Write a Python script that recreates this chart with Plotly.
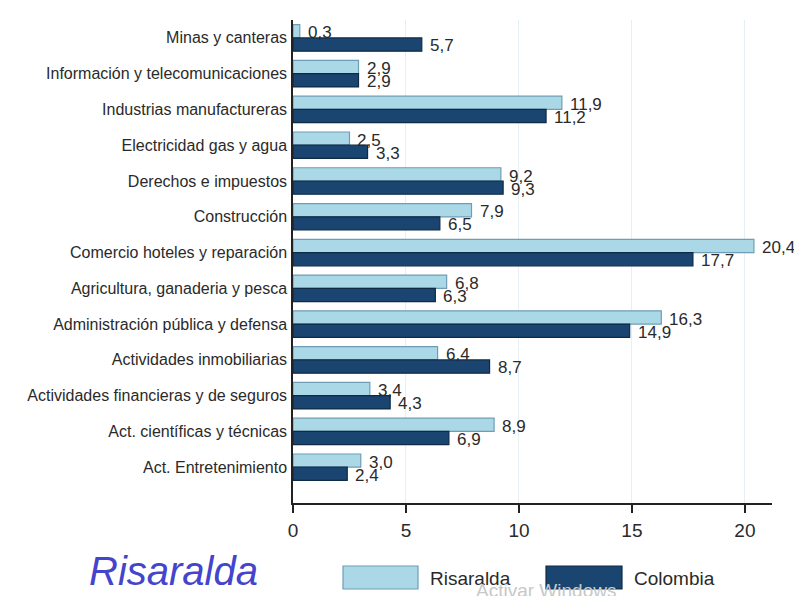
import plotly.graph_objects as go

categories = [
    "Minas y canteras",
    "Información y telecomunicaciones",
    "Industrias manufactureras",
    "Electricidad gas y agua",
    "Derechos e impuestos",
    "Construcción",
    "Comercio hoteles y reparación",
    "Agricultura, ganaderia y pesca",
    "Administración pública y defensa",
    "Actividades inmobiliarias",
    "Actividades financieras y de seguros",
    "Act. científicas y técnicas",
    "Act. Entretenimiento",
]
risaralda = [0.3, 2.9, 11.9, 2.5, 9.2, 7.9, 20.4, 6.8, 16.3, 6.4, 3.4, 8.9, 3.0]
colombia = [5.7, 2.9, 11.2, 3.3, 9.3, 6.5, 17.7, 6.3, 14.9, 8.7, 4.3, 6.9, 2.4]
x_ticks = [0, 5, 10, 15, 20]
series_names = ["Risaralda", "Colombia"]
chart_title = "Risaralda"

LIGHT = "#aad8e6"
LIGHT_LINE = "#6f9db5"
DARK = "#1a4570"
DARK_LINE = "#0e2a45"
FONT = "Liberation Sans"
TXT = "#2a2a2a"

W, H = 794, 596
ML, MR, MT, MB = 293, 22, 20, 93

def px_x(p):
    return (p - ML) / (W - ML - MR)

def px_y(p):
    return (H - MB - p) / (H - MT - MB)

fig = go.Figure()
fig.add_trace(go.Bar(y=categories, x=risaralda, orientation="h", name=series_names[0],
                     marker=dict(color=LIGHT, line=dict(color=LIGHT_LINE, width=1.2))))
fig.add_trace(go.Bar(y=categories, x=colombia, orientation="h", name=series_names[1],
                     marker=dict(color=DARK, line=dict(color=DARK_LINE, width=1.2))))

def fmt(v):
    return f"{v:.1f}".replace(".", ",")

annotations = []
for cat, v in zip(categories, risaralda):
    annotations.append(dict(x=v, y=cat, xref="x", yref="y", text=fmt(v), showarrow=False,
                            xanchor="left", yanchor="middle", xshift=6, yshift=5,
                            font=dict(family=FONT, size=17, color=TXT)))
for cat, v in zip(categories, colombia):
    annotations.append(dict(x=v, y=cat, xref="x", yref="y", text=fmt(v), showarrow=False,
                            xanchor="left", yanchor="middle", xshift=6, yshift=-8,
                            font=dict(family=FONT, size=17, color=TXT)))

annotations.append(dict(x=px_x(87), y=px_y(571), xref="paper", yref="paper", text=chart_title,
                        showarrow=False, xanchor="left", yanchor="middle",
                        font=dict(family=FONT, size=40, color="#4444cc", style="italic")))
annotations += [
    dict(x=px_x(428), y=px_y(578), xref="paper", yref="paper", text=series_names[0], showarrow=False,
         xanchor="left", yanchor="middle", font=dict(family=FONT, size=19, color=TXT)),
    dict(x=px_x(632), y=px_y(578), xref="paper", yref="paper", text=series_names[1], showarrow=False,
         xanchor="left", yanchor="middle", font=dict(family=FONT, size=19, color=TXT)),
    dict(x=px_x(474), y=px_y(590), xref="paper", yref="paper", text="Activar Windows", showarrow=False,
         xanchor="left", yanchor="middle", font=dict(family=FONT, size=19, color="#c8c8c8")),
]
shapes = [
    dict(type="rect", xref="paper", yref="paper", x0=px_x(343), x1=px_x(418), y0=px_y(589), y1=px_y(566),
         fillcolor=LIGHT, line=dict(color=LIGHT_LINE, width=1.2)),
    dict(type="rect", xref="paper", yref="paper", x0=px_x(546), x1=px_x(622), y0=px_y(589), y1=px_y(566),
         fillcolor=DARK, line=dict(color=DARK_LINE, width=1.2)),
]

fig.update_layout(
    annotations=annotations, shapes=shapes,
    width=W, height=H,
    margin=dict(l=ML, r=MR, t=MT, b=MB, pad=0),
    barmode="group", bargap=0.26, bargroupgap=0,
    showlegend=False,
    plot_bgcolor="white", paper_bgcolor="white",
    font=dict(family=FONT, size=16, color=TXT),
    xaxis=dict(range=[0, 21.2], tickvals=x_ticks, ticktext=[str(t) for t in x_ticks],
               showgrid=True, gridcolor="#e6eff3", gridwidth=1,
               showline=True, linecolor="#222222", linewidth=1.5,
               ticks="outside", ticklen=8, tickcolor="#222222", tickwidth=1.5,
               ticklabelstandoff=1,
               zeroline=False, tickfont=dict(family=FONT, size=19, color=TXT)),
    yaxis=dict(range=[13.0, -0.5], showgrid=False, showline=True, linecolor="#222222", linewidth=1.5,
               ticks="", ticklabelstandoff=1, zeroline=False, automargin=False,
               tickfont=dict(family=FONT, size=16, color=TXT)),
)

fig.write_html("out.html", config={"displayModeBar": False},
               post_script="document.body.style.margin='0';document.body.style.padding='0';")
